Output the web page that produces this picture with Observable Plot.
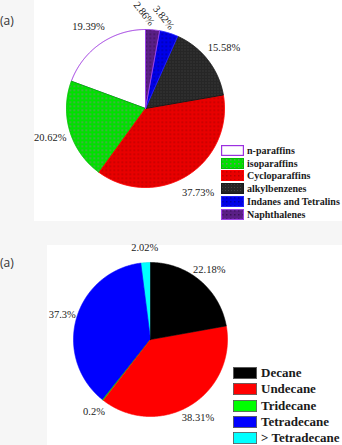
<!DOCTYPE html>
<html>
<head>
<meta charset="utf-8">
<script src="https://cdn.jsdelivr.net/npm/d3@7"></script>
<script src="https://cdn.jsdelivr.net/npm/@observablehq/plot@0.6"></script>
<style>
  html, body { margin: 0; padding: 0; background: #f6f6f6; }
  #root { position: relative; width: 342px; height: 445px; overflow: hidden; }
  .panel { position: absolute; background: #ffffff; }
  .tag { position: absolute; font-family: "Open Sans", sans-serif; font-size: 12px; color: #333; }
  .plotwrap { position: absolute; left: 0; }
  .legend { position: absolute; font-family: "Liberation Serif", "Times New Roman", serif; font-weight: bold; color: #1a1a1a; }
  .legend .row { position: absolute; left: 0; display: flex; align-items: center; white-space: nowrap; }
  .legend svg { display: block; }
</style>
</head>
<body>
<div id="root">
  <div class="panel" style="left:34px;top:0;width:308px;height:221px"></div>
  <div class="panel" style="left:47px;top:245px;width:295px;height:200px"></div>
  <div class="tag" style="left:0;top:12px">(a)</div>
  <div class="tag" style="left:0;top:254px">(a)</div>
  <div class="plotwrap" id="top" style="top:0"></div>
  <div class="plotwrap" id="bottom" style="top:222px"></div>
  <div class="legend" id="legTop" style="left:221px;top:145px"></div>
  <div class="legend" id="legBottom" style="left:233px;top:367px"></div>
</div>
<svg width="0" height="0" style="position:absolute">
  <defs>
    <pattern id="patGreen" width="4" height="4" patternUnits="userSpaceOnUse">
      <rect width="4" height="4" fill="#00e000"/><rect x="1" y="1" width="1.5" height="1.5" fill="#6f8f6f"/>
    </pattern>
    <pattern id="patRed" width="4" height="4" patternUnits="userSpaceOnUse">
      <rect width="4" height="4" fill="#e80000"/><rect x="1" y="1" width="1.5" height="1.5" fill="#b80000"/>
    </pattern>
    <pattern id="patBlack" width="3" height="3" patternUnits="userSpaceOnUse">
      <rect width="3" height="3" fill="#262626"/><rect x="1" y="1" width="1" height="1" fill="#444"/>
    </pattern>
    <pattern id="patBlue" width="4" height="4" patternUnits="userSpaceOnUse">
      <rect width="4" height="4" fill="#0000e8"/><rect x="1" y="1" width="1.5" height="1.5" fill="#0000a0"/>
    </pattern>
    <pattern id="patPurple" width="4" height="4" patternUnits="userSpaceOnUse">
      <rect width="4" height="4" fill="#5a1f86"/><rect x="1" y="1" width="1.5" height="1.5" fill="#3a1058"/>
    </pattern>
  </defs>
</svg>
<script>
// ---------- data: top pie ----------
const topCategories = ["n-paraffins", "isoparaffins", "Cycloparaffins", "alkylbenzenes", "Indanes and Tetralins", "Naphthalenes"];
const topValues = [19.39, 20.62, 37.73, 15.58, 3.82, 2.86];
const topLabels = ["19.39%", "20.62%", "37.73%", "15.58%", "3.82%", "2.86%"];
const topFills = ["#ffffff", "url(#patGreen)", "url(#patRed)", "url(#patBlack)", "url(#patBlue)", "url(#patPurple)"];
const topStrokes = ["#9b30e0", "#00c000", "#ff0000", "#1a1a1a", "#2020ff", "#9b40e8"];
// clockwise order from 12 o'clock
const topOrder = ["Naphthalenes", "Indanes and Tetralins", "alkylbenzenes", "Cycloparaffins", "isoparaffins", "n-paraffins"];

// ---------- data: bottom pie ----------
const bottomCategories = ["Decane", "Undecane", "Tridecane", "Tetradecane", "> Tetradecane"];
const bottomValues = [22.18, 38.31, 0.2, 37.3, 2.02];
const bottomLabels = ["22.18%", "38.31%", "0.2%", "37.3%", "2.02%"];
const bottomFills = ["#000000", "#ff0000", "#00ff00", "#0000ff", "#00ffff"];
const bottomStrokes = ["#000000", "#ff0000", "#00c000", "#0000ff", "#00e0e0"];
const bottomOrder = bottomCategories;

function build(categories, values, labels, fills, strokes, order) {
  const rows = categories.map((c, i) => ({cat: c, value: values[i], label: labels[i], fill: fills[i], stroke: strokes[i]}));
  const ordered = order.map(c => rows.find(r => r.cat === c));
  const arcs = d3.pie().sort(null).value(d => d.value)(ordered);
  const groups = [];
  const lab = [];
  arcs.forEach(a => {
    const d = a.data;
    const g = [];
    const n = Math.max(2, Math.ceil((a.endAngle - a.startAngle) / (Math.PI / 360)));
    g.push({cat: d.cat, fill: d.fill, stroke: d.stroke, x: 0, y: 0});
    for (let k = 0; k <= n; k++) {
      const t = a.startAngle + (a.endAngle - a.startAngle) * k / n;
      g.push({cat: d.cat, fill: d.fill, stroke: d.stroke, x: Math.sin(t), y: Math.cos(t)});
    }
    g.push({cat: d.cat, fill: d.fill, stroke: d.stroke, x: 0, y: 0});
    groups.push(g);
    lab.push({label: d.label, value: d.value, mid: (a.startAngle + a.endAngle) / 2});
  });
  // draw last slice first so neighbours' edges sit on top of it
  const pts = groups.reverse().flat();
  return {pts, lab, rows};
}

function pie(el, spec, opts) {
  const {pts, lab} = spec;
  const {width, height, cx, cy, r, labelR, smallR, font, rotated, smallDx} = opts;
  const plot = Plot.plot({
    width, height,
    marginLeft: cx - r, marginRight: width - cx - r,
    marginTop: cy - r, marginBottom: height - cy - r,
    x: {domain: [-1, 1], axis: null},
    y: {domain: [-1, 1], axis: null},
    color: {type: "identity"},
    style: {background: "transparent", overflow: "visible"},
    marks: [
      Plot.line(pts, {x: "x", y: "y", z: "cat", fill: "fill", stroke: "stroke", strokeWidth: opts.sw, curve: "linear-closed"}),
      Plot.text(lab.filter(d => !(rotated && d.value < 5)), {
        x: d => Math.sin(d.mid) * labelR, y: d => Math.cos(d.mid) * labelR,
        text: "label", fontFamily: "Liberation Serif, Times New Roman, serif", fontSize: font, fill: "#222"
      }),
      rotated ? Plot.text(lab.filter(d => d.value < 5), {
        x: d => Math.sin(d.mid) * smallR, y: d => Math.cos(d.mid) * smallR,
        text: "label", rotate: 52, dx: smallDx,
        fontFamily: "Liberation Serif, Times New Roman, serif", fontSize: font, fill: "#222"
      }) : null
    ]
  });
  document.getElementById(el).appendChild(plot);
}

function legend(el, rows, o) {
  const host = document.getElementById(el);
  rows.forEach((d, i) => {
    const row = document.createElement("div");
    row.className = "row";
    row.style.top = (i * o.step) + "px";
    row.style.height = o.h + "px";
    row.style.fontSize = o.font + "px";
    const ns = "http://www.w3.org/2000/svg";
    const s = document.createElementNS(ns, "svg");
    s.setAttribute("width", o.w); s.setAttribute("height", o.h);
    const rc = document.createElementNS(ns, "rect");
    rc.setAttribute("x", o.sw / 2); rc.setAttribute("y", o.sw / 2);
    rc.setAttribute("width", o.w - o.sw); rc.setAttribute("height", o.h - o.sw);
    rc.setAttribute("fill", d.fill); rc.setAttribute("stroke", o.stroke || d.stroke);
    rc.setAttribute("stroke-width", o.sw);
    s.appendChild(rc);
    row.appendChild(s);
    const t = document.createElement("span");
    t.textContent = d.cat;
    t.style.marginLeft = o.gap + "px";
    row.appendChild(t);
    host.appendChild(row);
  });
}

const topSpec = build(topCategories, topValues, topLabels, topFills, topStrokes, topOrder);
pie("top", topSpec, {width: 342, height: 222, cx: 145, cy: 108, r: 79, labelR: 1.26, smallR: 1.205, font: 10.5, rotated: true, smallDx: -10, sw: 1});
legend("legTop", topSpec.rows, {step: 12.7, w: 23, h: 11, font: 10, gap: 3, sw: 1.2});

const bottomSpec = build(bottomCategories, bottomValues, bottomLabels, bottomFills, bottomStrokes, bottomOrder);
pie("bottom", bottomSpec, {width: 342, height: 223, cx: 150, cy: 117, r: 77, labelR: 1.19, font: 10.5, rotated: false, sw: 0.6});
legend("legBottom", bottomSpec.rows, {step: 16.3, w: 24, h: 12, font: 13, gap: 4, sw: 0.8, stroke: "#555"});
</script>
</body>
</html>
